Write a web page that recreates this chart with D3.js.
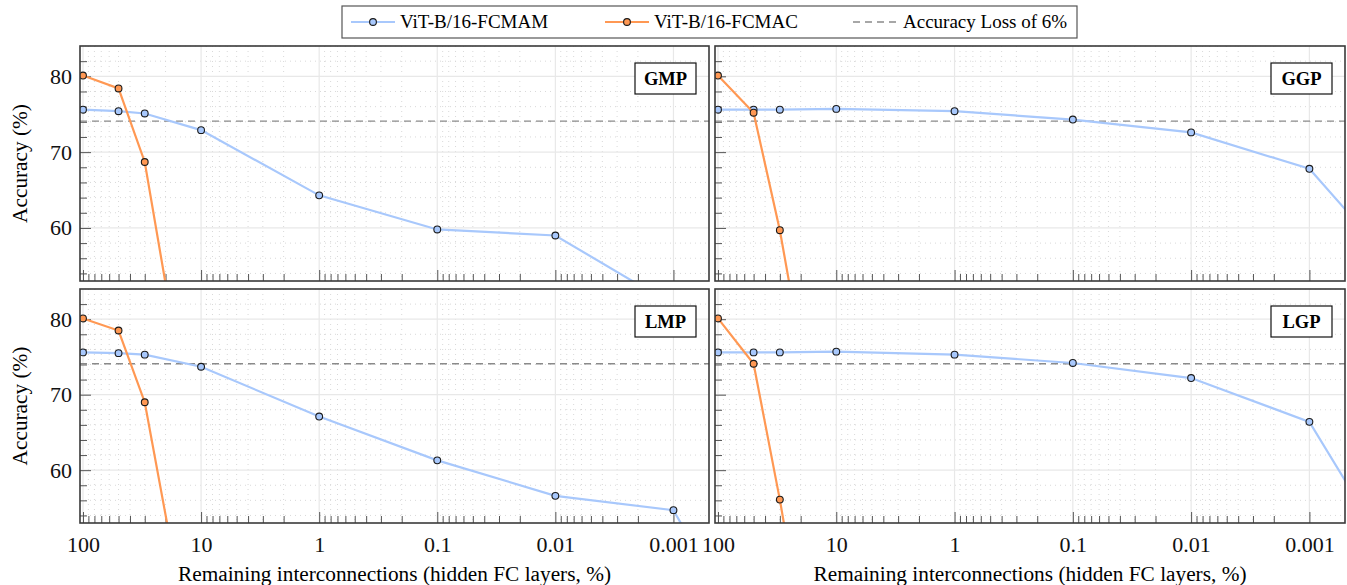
<!DOCTYPE html>
<html>
<head>
<meta charset="utf-8">
<script src="https://cdn.jsdelivr.net/npm/d3@7"></script>
<style>
  body { margin: 0; background: #fff; }
  svg { display: block; font-family: "Liberation Serif", "Times New Roman", serif; }
</style>
</head>
<body>
<div id="chart"></div>
<script>
// remaining interconnections (%) for each evaluated point
var ratios = [100, 50, 30, 10, 1, 0.1, 0.01, 0.001, 0.0001];
var majorTicks = [100, 10, 1, 0.1, 0.01, 0.001];
var yTicks = [60, 70, 80];

var panelNames = ["GMP", "GGP", "LMP", "LGP"];

// accuracy (%) per panel
var fcmamGMP = [75.6, 75.4, 75.1, 72.9, 64.3, 59.8, 59.0, 49.8];
var fcmacGMP = [80.1, 78.4, 68.7, 25.3];
var fcmamGGP = [75.6, 75.6, 75.6, 75.7, 75.4, 74.3, 72.6, 67.8, 50.1];
var fcmacGGP = [80.1, 75.2, 59.7, 18.0];
var fcmamLMP = [75.6, 75.5, 75.3, 73.7, 67.1, 61.3, 56.6, 54.7, 27.2];
var fcmacLMP = [80.1, 78.5, 69.0, 28.6];
var fcmamLGP = [75.6, 75.6, 75.6, 75.7, 75.3, 74.2, 72.2, 66.4, 40.6];
var fcmacLGP = [80.1, 74.1, 56.1, 12.7];

var baseline = 80.1;
var lossPct = 6;

var seriesNames = ["ViT-B/16-FCMAM", "ViT-B/16-FCMAC"];
var lossLabel = "Accuracy Loss of 6%";

(function() {
  var W = 1347, H = 585;
  var blue = "#a8c8fc", orange = "#ff9853";
  var axisColor = "#3a3a3a";
  var serif = "'Liberation Serif', 'Times New Roman', serif";

  var panels = [
    { name: panelNames[0], mam: fcmamGMP, mac: fcmacGMP, x0: 80, x1: 709, y0: 46, y1: 281, left: true },
    { name: panelNames[1], mam: fcmamGGP, mac: fcmacGGP, x0: 715, x1: 1345, y0: 46, y1: 281, left: false },
    { name: panelNames[2], mam: fcmamLMP, mac: fcmacLMP, x0: 80, x1: 709, y0: 289, y1: 523, left: true },
    { name: panelNames[3], mam: fcmamLGP, mac: fcmacLGP, x0: 715, x1: 1345, y0: 289, y1: 523, left: false }
  ];

  var minorX = [];
  majorTicks.slice(1).forEach(function(d) {
    for (var k = 2; k <= 9; k++) minorX.push(+(k * d).toPrecision(3));
  });
  var minorY = d3.range(54, 85, 2).filter(function(v) { return v % 10 !== 0; });

  var svg = d3.select("#chart").append("svg").attr("width", W).attr("height", H);
  var defs = svg.append("defs");

  panels.forEach(function(p, i) {
    var x = d3.scaleLog().domain([106, 0.0005]).range([p.x0, p.x1]);
    var y = d3.scaleLinear().domain([53, 84]).range([p.y1, p.y0]);
    var g = svg.append("g").attr("class", "panel");

    defs.append("clipPath").attr("id", "clip" + i).append("rect")
      .attr("x", p.x0).attr("y", p.y0).attr("width", p.x1 - p.x0).attr("height", p.y1 - p.y0);

    // grids
    var grid = g.append("g");
    grid.selectAll(".mx").data(minorX).enter().append("line")
      .attr("x1", function(d) { return x(d); }).attr("x2", function(d) { return x(d); })
      .attr("y1", p.y0).attr("y2", p.y1)
      .attr("stroke", "#d9d9d9").attr("stroke-dasharray", "1,4");
    grid.selectAll(".my").data(minorY).enter().append("line")
      .attr("x1", p.x0).attr("x2", p.x1)
      .attr("y1", function(d) { return y(d); }).attr("y2", function(d) { return y(d); })
      .attr("stroke", "#d9d9d9").attr("stroke-dasharray", "1,4");
    grid.selectAll(".Mx").data(majorTicks).enter().append("line")
      .attr("x1", function(d) { return x(d); }).attr("x2", function(d) { return x(d); })
      .attr("y1", p.y0).attr("y2", p.y1)
      .attr("stroke", "#e8e8e8").attr("stroke-width", 1.2);
    grid.selectAll(".My").data(yTicks).enter().append("line")
      .attr("x1", p.x0).attr("x2", p.x1)
      .attr("y1", function(d) { return y(d); }).attr("y2", function(d) { return y(d); })
      .attr("stroke", "#e8e8e8").attr("stroke-width", 1.2);

    // axes (ticks inside)
    var xAxis = d3.axisBottom(x).tickValues(majorTicks).tickSize(-11).tickSizeOuter(0)
      .tickPadding(13).tickFormat(function(d) { return String(d); });
    var xg = g.append("g").attr("transform", "translate(0," + p.y1 + ")").call(xAxis);
    var xMinor = d3.axisBottom(x).tickValues(minorX).tickSize(-7).tickSizeOuter(0).tickFormat("");
    var xmg = g.append("g").attr("transform", "translate(0," + p.y1 + ")").call(xMinor);
    if (i < 2) xg.selectAll("text").remove();

    var yAxis = d3.axisLeft(y).tickValues(yTicks).tickSize(-11).tickSizeOuter(0).tickPadding(8);
    var yg = g.append("g").attr("transform", "translate(" + p.x0 + ",0)").call(yAxis);
    var yMinor = d3.axisLeft(y).tickValues(minorY.filter(function(v) { return v < 84; }))
      .tickSize(-7).tickSizeOuter(0).tickFormat("");
    var ymg = g.append("g").attr("transform", "translate(" + p.x0 + ",0)").call(yMinor);
    if (!p.left) yg.selectAll("text").remove();

    [xg, xmg, yg, ymg].forEach(function(a) {
      a.attr("font-family", serif);
      a.select(".domain").remove();
      a.selectAll("line").attr("stroke", "#555").attr("stroke-width", 1);
      a.selectAll("text").attr("fill", "#111").style("font-size", "22px")
        .style("font-family", serif);
    });

    // loss threshold
    g.append("line").attr("x1", p.x0).attr("x2", p.x1)
      .attr("y1", y(baseline - lossPct)).attr("y2", y(baseline - lossPct))
      .attr("stroke", "#8a8a8a").attr("stroke-width", 1.3).attr("stroke-dasharray", "7,5");

    var plot = g.append("g").attr("clip-path", "url(#clip" + i + ")");
    var line = d3.line().x(function(d) { return x(d[0]); }).y(function(d) { return y(d[1]); });

    [[p.mam, blue], [p.mac, orange]].forEach(function(s) {
      var pts = s[0].map(function(v, j) { return [ratios[j], v]; });
      plot.append("path").datum(pts).attr("d", line)
        .attr("fill", "none").attr("stroke", s[1]).attr("stroke-width", 2.2);
      plot.selectAll(null).data(pts).enter().append("circle")
        .attr("cx", function(d) { return x(d[0]); }).attr("cy", function(d) { return y(d[1]); })
        .attr("r", 3.4).attr("fill", s[1]).attr("stroke", "#1a1a1a").attr("stroke-width", 1.1);
    });

    // frame
    g.append("rect").attr("x", p.x0).attr("y", p.y0)
      .attr("width", p.x1 - p.x0).attr("height", p.y1 - p.y0)
      .attr("fill", "none").attr("stroke", axisColor).attr("stroke-width", 1.6);

    // panel tag
    var tag = g.append("g").attr("transform", "translate(" + (p.x1 - 74) + "," + (p.y0 + 17) + ")");
    tag.append("rect").attr("width", 61).attr("height", 31)
      .attr("fill", "#fff").attr("stroke", "#111").attr("stroke-width", 1.2);
    tag.append("text").attr("x", 30.5).attr("y", 22).attr("text-anchor", "middle")
      .style("font-family", serif).style("font-weight", "bold").style("font-size", "18.5px").text(p.name);

    if (i >= 2) {
      g.append("text").attr("x", (p.x0 + p.x1) / 2).attr("y", 581).attr("text-anchor", "middle")
        .style("font-family", serif).style("font-size", "21.3px")
        .text("Remaining interconnections (hidden FC layers, %)");
    }
    if (p.left) {
      g.append("text").attr("transform", "translate(27," + ((p.y0 + p.y1) / 2) + ") rotate(-90)")
        .attr("text-anchor", "middle").style("font-family", serif).style("font-size", "21.3px")
        .text("Accuracy (%)");
    }
  });

  // legend
  var lg = svg.append("g").attr("class", "legend");
  lg.append("rect").attr("x", 342).attr("y", 6).attr("width", 735).attr("height", 32)
    .attr("fill", "#fff").attr("stroke", "#555").attr("stroke-width", 1.2);
  var items = [
    { label: seriesNames[0], color: blue, x: 351, dash: null },
    { label: seriesNames[1], color: orange, x: 605, dash: null },
    { label: lossLabel, color: "#8a8a8a", x: 853, dash: "7,5" }
  ];
  items.forEach(function(it) {
    lg.append("line").attr("x1", it.x).attr("x2", it.x + 44).attr("y1", 22).attr("y2", 22)
      .attr("stroke", it.color).attr("stroke-width", it.dash ? 1.3 : 2.2)
      .attr("stroke-dasharray", it.dash);
    if (!it.dash) {
      lg.append("circle").attr("cx", it.x + 22).attr("cy", 22).attr("r", 3.4)
        .attr("fill", it.color).attr("stroke", "#1a1a1a").attr("stroke-width", 1.1);
    }
    lg.append("text").attr("x", it.x + (it.dash ? 50 : 49)).attr("y", 28)
      .style("font-family", serif).style("font-size", "19px").text(it.label);
  });
}).call(this);
</script>
</body>
</html>
